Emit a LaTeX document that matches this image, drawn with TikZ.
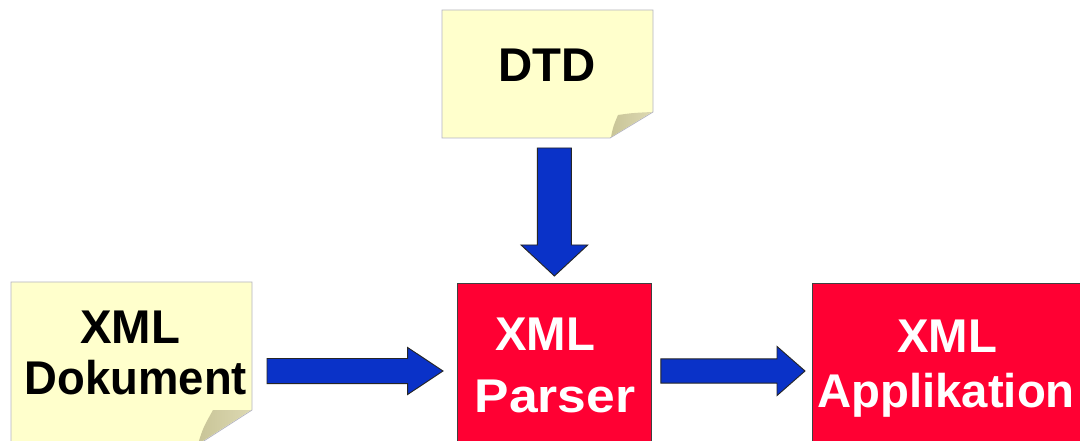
\documentclass[tikz,border=0pt]{standalone}
\usepackage{graphicx}
\usepackage{fontspec}
\setmainfont{Liberation Sans}
\usetikzlibrary{calc}

\definecolor{notefill}{HTML}{FFFFCC}
\definecolor{noteedge}{HTML}{B4B4C4}
\definecolor{flapfill}{HTML}{C8C497}
\definecolor{flaplight}{HTML}{DDD9B2}
\definecolor{boxred}{HTML}{FF0033}
\definecolor{arrowblue}{HTML}{0A32C8}

\tikzset{
  x=0.75pt, y=-0.75pt,
  txt/.style={font=\fontsize{35.5pt}{42pt}\selectfont\bfseries, inner sep=0pt, anchor=base},
  note/.style={fill=notefill, draw=noteedge, line width=0.6pt},
  flap/.style={left color=flapfill, right color=flaplight},
  redbox/.style={rectangle, fill=boxred, draw=black!75, line width=0.6pt, inner sep=0pt, anchor=north west},
  % block arrow: #1 half body width, #2 half head width, #3 head length
  blockarrow/.style n args={3}{draw=black!85, line width=0.7pt, fill=arrowblue, line join=miter,
    to path={let \p1=($(\tikztotarget)!#3!(\tikztostart)$) in
      ($(\tikztostart)!#1!90:(\tikztotarget)$) --
      ($(\p1)!#1!-90:(\tikztostart)$) --
      ($(\p1)!#2!-90:(\tikztostart)$) --
      (\tikztotarget) --
      ($(\p1)!#2!90:(\tikztostart)$) --
      ($(\p1)!#1!90:(\tikztostart)$) --
      ($(\tikztostart)!#1!-90:(\tikztotarget)$) -- cycle}}
}

\begin{document}
\begin{tikzpicture}
  \useasboundingbox (0,0) rectangle (1080,441);
  \clip (0,0) rectangle (1080,441);
  \fill[white] (0,0) rectangle (1080,441);

  % DTD sticky note with curled corner
  \path[note] (442,10) -- (653,10) -- (653,112) -- (610,138) -- (442,138) -- cycle;
  \shade[flap] (611,137) .. controls (613,127) .. (618,115) .. controls (632,113) .. (652,112) -- cycle;

  % XML document sticky note
  \path[note] (11,282) -- (252,282) -- (252,410) -- (196,446) -- (11,446) -- cycle;
  \shade[flap] (198,444) .. controls (203,428) .. (213,410) .. controls (232,410) .. (251,410) -- cycle;

  % processing boxes
  \node[redbox, minimum width=145.5pt, minimum height=150pt] (parser) at (457,283) {};
  \node[redbox, minimum width=240pt, minimum height=150pt] (app) at (812,283) {};

  % labels
  \node[txt] (dtd) at (547,82) {DTD};
  \node[txt] (dokA) at (130,343) {XML};
  \node[txt] (dokB) at (136,394) {\scalebox{0.96}[1]{Dokument}};
  \node[txt, white] (parA) at (545,350) {XML};
  \node[txt, white] (parB) at (555,412) {\scalebox{1.09}[1]{Parser}};
  \node[txt, white] (appA) at (947,352) {XML};
  \node[txt, white] (appB) at (946,407) {Applikation};

  % arrow end points
  \coordinate (a1s) at (267,371);
  \coordinate (a1e) at ($(parser.north west)+(-14,88)$);
  \coordinate (a2s) at ($(parser.north east)+(9,88)$);
  \coordinate (a2e) at ($(app.north west)+(-7,88)$);
  \coordinate (a3s) at ($(parser.north)+(0,-135)$);
  \coordinate (a3e) at ($(parser.north)+(0,-7)$);

  % arrows
  \draw[blockarrow={9.4pt}{17.6pt}{26.5pt}] (a1s) to (a1e);
  \draw[blockarrow={9.1pt}{18.4pt}{21pt}] (a2s) to (a2e);
  \draw[blockarrow={12.75pt}{25pt}{23.25pt}] (a3s) to (a3e);
\end{tikzpicture}
\end{document}
